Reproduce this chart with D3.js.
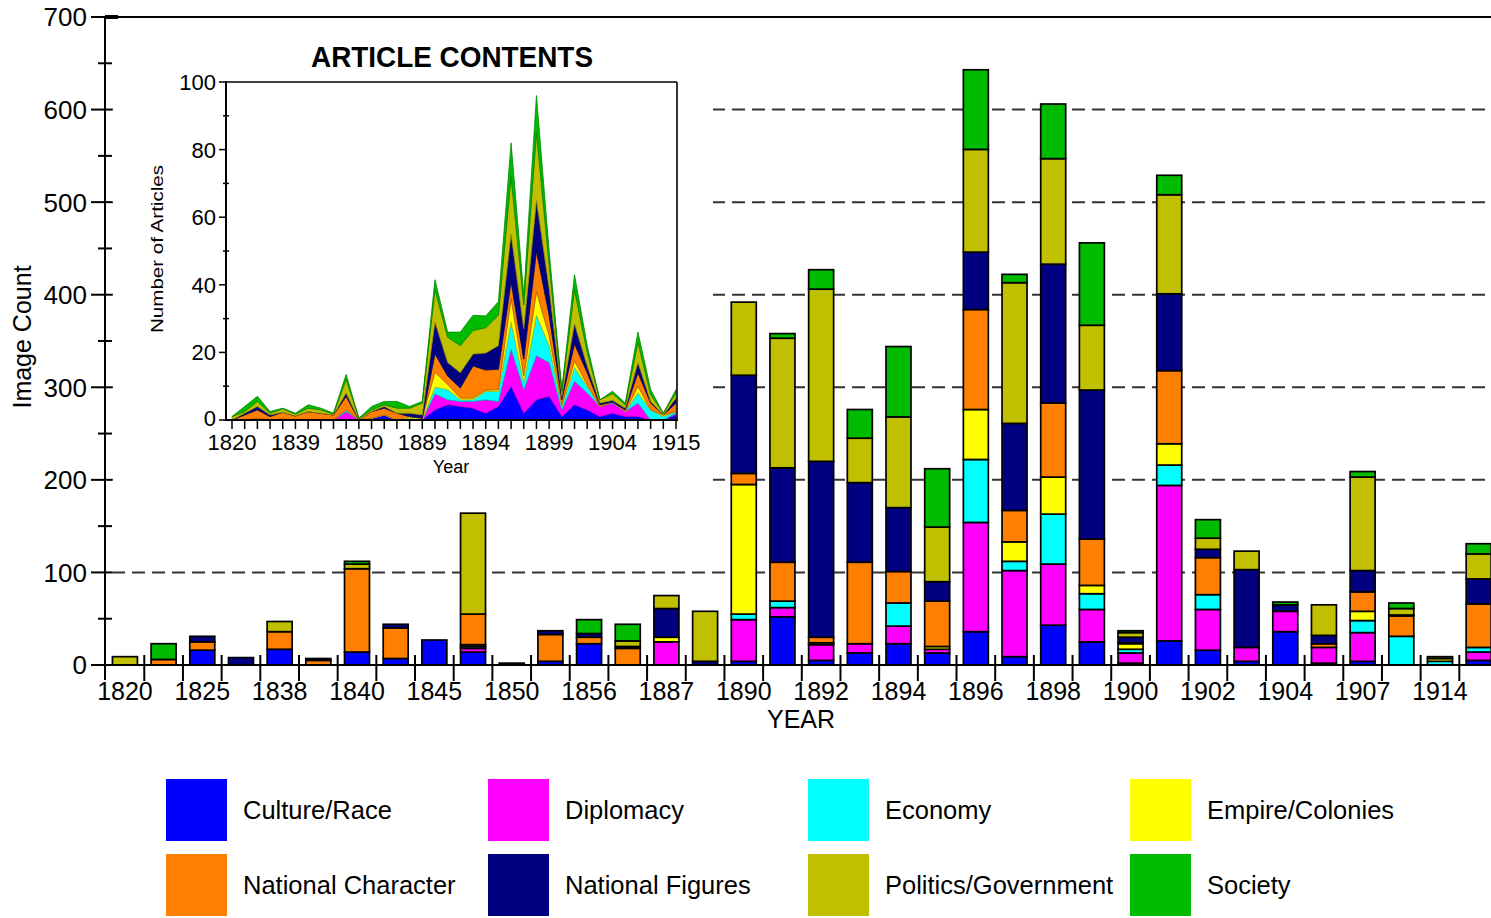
<!DOCTYPE html>
<html><head><meta charset="utf-8">
<script src="https://cdn.jsdelivr.net/npm/d3@7"></script>
<style>body{margin:0;background:#fff;} svg{display:block;font-family:"Liberation Sans",Arial,sans-serif;}</style>
</head><body>
<svg id="c" width="1491" height="918"></svg>
<script>
const years = ["1820","1822","1825","1830","1838","1839","1840","1842","1845","1848","1850","1853","1856","1860","1887","1889","1890","1891","1892","1893","1894","1895","1896","1897","1898","1899","1900","1901","1902","1903","1904","1905","1907","1908","1914","1915"];
const categories = ["Culture/Race","Diplomacy","Economy","Empire/Colonies","National Character","National Figures","Politics/Government","Society"];
const colors = ["#0000ff","#ff00ff","#00ffff","#ffff00","#ff8000","#000080","#c0c000","#00bb00"];
const yTicks = [0,100,200,300,400,500,600,700];
const insetYTicks = [0,20,40,60,80,100];

// Image counts (main chart)
const cultureRace      = [0,0,16,0,17,0,14,7,27,14,0,4,23,0,0,0,4,52,5,13,23,13,36,9,43,25,2,26,16,4,36,2,4,0,0,5];
const diplomacy        = [0,0,0,0,0,0,0,0,0,4,0,0,0,0,25,0,45,10,17,10,19,4,118,93,66,35,11,168,44,15,22,17,31,0,0,9];
const economy          = [0,0,0,0,0,0,0,0,0,2,0,0,0,0,0,0,6,7,0,0,25,0,68,10,54,17,4,22,16,0,0,0,13,31,4,5];
const empireColonies   = [0,0,0,0,0,0,0,0,0,2,0,0,0,0,5,0,140,0,2,0,0,3,54,21,40,9,6,23,0,0,0,0,10,0,3,0];
const nationalChar     = [0,6,9,0,19,5,90,33,0,33,0,29,7,18,0,0,12,42,6,88,34,49,108,34,80,50,1,79,40,0,0,4,21,22,0,47];
const nationalFigures  = [0,0,6,8,0,2,0,4,0,0,2,4,4,2,31,4,106,102,190,86,69,21,62,94,150,161,6,83,9,84,7,9,23,1,0,27];
const politicsGov      = [9,0,0,0,11,0,5,0,0,109,0,0,0,6,14,54,79,140,186,48,98,59,111,152,114,70,5,107,12,20,0,33,101,7,2,27];
const society          = [0,17,0,0,0,0,3,0,0,0,0,0,15,18,0,0,0,5,21,31,76,63,86,9,59,89,2,21,20,0,3,0,6,6,0,11];

// Article counts (inset)
const artCulture   = [0,0,0.5,0,0.3,0,0,0,0,0,0,0.5,1.5,0,0,0,3,4.5,4,3.5,2,4,10,2,6,7,1,4.5,3,1,2,1,1,0,0,1.5];
const artDiplomacy = [0,0,0,0,0,0,0,0,0,2.5,0,0,0,0,0.5,0,4.7,1.5,1.5,2,4,1.5,11,7,13,10,2,7,5,3,3,1.5,4,0,0,0.5];
const artEconomy   = [0,0,0,0,0,0,0,0,0,0.5,0,0,0,0,0,0,2,3,0.5,0.5,2.5,3,8,2,12,5,1,4,2,0,0.3,0,3,3,1,0.5];
const artEmpire    = [0,0,0,0,0,0,0,0,0,0,0,0,0,0,0.5,0.5,4.4,1.5,0.5,0.5,0.3,0.5,7,2,7,3,0.5,2,0.5,0,0,0,2,0,0.5,0];
const artNatChar   = [0,1.5,2.5,1,2,1.2,2.5,2,1.5,4,0,2,2,2,0,0,5.5,2.5,3,9.5,6,6,5,5,12,6,1.5,5,3.5,0.5,0,0.5,4,2,0,2.5];
const artNatFig    = [0,0.5,1,0.5,0,0,0,0,0,1,0,0,0.5,0,1,1,9.4,4,4.5,3.5,5,7,14,9,15,8,1,6,2,0.5,0.5,0.5,3,0.5,0,1.5];
const artPolitics  = [1,0.5,1.5,0.5,1,0.5,1,1,0.3,4,0.5,0.5,0.5,1.5,1.5,3.5,9.5,7.5,8,7,7.5,9,17,7,20,7,1.5,10,4,1,2,1,6,2,0.5,1.5];
const artSociety   = [0,1.5,1.5,0.5,0.2,0.3,1,0.5,0.2,1.5,0,1,1,2,0.5,0.5,3,1.5,4,4.5,3.5,4,10,3,11,4,0.5,4.5,2,0,0.7,0.5,3,1.5,0,1];

const mainSeries = [cultureRace,diplomacy,economy,empireColonies,nationalChar,nationalFigures,politicsGov,society];
const artSeries  = [artCulture,artDiplomacy,artEconomy,artEmpire,artNatChar,artNatFig,artPolitics,artSociety];

const svg = d3.select("#c");
const rows = years.map((yr,i)=>{const o={year:yr}; categories.forEach((c,k)=>o[c]=mainSeries[k][i]); return o;});
const artRows = years.map((yr,i)=>{const o={year:yr}; categories.forEach((c,k)=>o[c]=artSeries[k][i]); return o;});

// ---------- main chart ----------
const y = d3.scaleLinear().domain([0,700]).range([665,17]);
const x = d3.scaleBand().domain(years).range([105.6,1498]).paddingInner(0.354).paddingOuter(0.177);
const step = x.step();

// gridlines
svg.append("g").selectAll("line").data([100,200,300,400,500,600]).join("line")
  .attr("x1",112).attr("x2",1491).attr("y1",d=>y(d)).attr("y2",d=>y(d))
  .attr("stroke","#333").attr("stroke-width",2).attr("stroke-dasharray","13,7");

const stack = d3.stack().keys(categories)(rows);
svg.append("g").selectAll("g").data(stack).join("g")
  .attr("fill",(d,i)=>colors[i])
  .selectAll("rect").data(d=>d.filter(s=>s[1]-s[0]>0)).join("rect")
  .attr("x",d=>x(d.data.year)).attr("width",x.bandwidth())
  .attr("y",d=>y(d[1])).attr("height",d=>y(d[0])-y(d[1]))
  .attr("stroke","#000").attr("stroke-width",1.7);

// axes
svg.append("line").attr("x1",105).attr("x2",1491).attr("y1",17).attr("y2",17).attr("stroke","#000").attr("stroke-width",2);
svg.append("line").attr("x1",105).attr("x2",118).attr("y1",17).attr("y2",17).attr("stroke","#000").attr("stroke-width",4);
svg.append("line").attr("x1",105).attr("x2",105).attr("y1",16).attr("y2",680).attr("stroke","#000").attr("stroke-width",2);
svg.append("line").attr("x1",105).attr("x2",1491).attr("y1",y(0)).attr("y2",y(0)).attr("stroke","#000").attr("stroke-width",2);
const minor = d3.range(50,700,100);
svg.append("g").selectAll("line").data(yTicks).join("line")
  .attr("x1",91).attr("x2",112).attr("y1",d=>y(d)).attr("y2",d=>y(d)).attr("stroke","#000").attr("stroke-width",2);
svg.append("g").selectAll("line").data(minor).join("line")
  .attr("x1",98).attr("x2",112).attr("y1",d=>y(d)).attr("y2",d=>y(d)).attr("stroke","#000").attr("stroke-width",2);
svg.append("g").selectAll("text").data(yTicks).join("text")
  .attr("x",87).attr("y",d=>y(d)).attr("dy","0.36em").attr("text-anchor","end")
  .attr("font-size",26).text(d=>d);
// x ticks at band boundaries
svg.append("g").selectAll("line").data(d3.range(1,37)).join("line")
  .attr("x1",i=>105.6+i*step).attr("x2",i=>105.6+i*step).attr("y1",655).attr("y2",681)
  .attr("stroke","#000").attr("stroke-width",2);
svg.append("g").selectAll("text").data(years.filter((d,i)=>i%2===0)).join("text")
  .attr("x",d=>x(d)+x.bandwidth()/2).attr("y",691).attr("dy","0.36em").attr("text-anchor","middle")
  .attr("font-size",25).text(d=>d);
svg.append("text").attr("x",801).attr("y",719).attr("dy","0.36em").attr("text-anchor","middle").attr("font-size",25).text("YEAR");
svg.append("text").attr("transform","translate(31,337) rotate(-90)").attr("text-anchor","middle").attr("font-size",25).text("Image Count");

// ---------- inset ----------
svg.append("rect").attr("x",113).attr("y",20).attr("width",600).attr("height",468).attr("fill","#fff");
const iy = d3.scaleLinear().domain([0,100]).range([420,82]);
const ix = d3.scalePoint().domain(years).range([232,676]);
const aStack = d3.stack().keys(categories)(artRows);
const area = d3.area().x(d=>ix(d.data.year)).y0(d=>iy(d[0])).y1(d=>iy(d[1]));
svg.append("g").selectAll("path").data(aStack).join("path")
  .attr("d",area).attr("fill",(d,i)=>colors[i])
  .attr("stroke",(d,i)=>d3.color(colors[i]).darker(0.9)).attr("stroke-width",0.8).attr("stroke-linejoin","round");
// frame
svg.append("line").attr("x1",226).attr("x2",677).attr("y1",82).attr("y2",82).attr("stroke","#000").attr("stroke-width",1.6);
svg.append("line").attr("x1",677).attr("x2",677).attr("y1",82).attr("y2",420).attr("stroke","#000").attr("stroke-width",1.6);
svg.append("line").attr("x1",226).attr("x2",226).attr("y1",81).attr("y2",421).attr("stroke","#000").attr("stroke-width",2);
svg.append("line").attr("x1",226).attr("x2",678).attr("y1",420).attr("y2",420).attr("stroke","#000").attr("stroke-width",2);
svg.append("g").selectAll("line").data(insetYTicks).join("line")
  .attr("x1",219).attr("x2",226).attr("y1",d=>iy(d)).attr("y2",d=>iy(d)).attr("stroke","#000").attr("stroke-width",1.5);
svg.append("g").selectAll("line").data([10,30,50,70,90]).join("line")
  .attr("x1",223).attr("x2",229).attr("y1",d=>iy(d)).attr("y2",d=>iy(d)).attr("stroke","#000").attr("stroke-width",1.5);
svg.append("g").selectAll("text").data(insetYTicks).join("text")
  .attr("x",216).attr("y",d=>iy(d)-(d===0?2:0)).attr("dy","0.36em").attr("text-anchor","end").attr("font-size",22).text(d=>d);
svg.append("g").selectAll("line").data(years).join("line")
  .attr("x1",d=>ix(d)).attr("x2",d=>ix(d)).attr("y1",420).attr("y2",429).attr("stroke","#000").attr("stroke-width",1.5);
svg.append("g").selectAll("text").data(years.filter((d,i)=>i%5===0||i===years.length-1)).join("text")
  .attr("x",d=>ix(d)).attr("y",442).attr("dy","0.36em").attr("text-anchor","middle").attr("font-size",22).text(d=>d);
svg.append("text").attr("x",451).attr("y",467).attr("dy","0.36em").attr("text-anchor","middle").attr("font-size",18).text("Year");
svg.append("text").attr("transform","translate(163,249) rotate(-90)").attr("text-anchor","middle").attr("font-size",17)
  .attr("textLength",168).attr("lengthAdjust","spacingAndGlyphs").text("Number of Articles");
svg.append("text").attr("x",452).attr("y",57).attr("dy","0.36em").attr("text-anchor","middle").attr("font-size",29).attr("font-weight","bold")
  .attr("textLength",282).attr("lengthAdjust","spacingAndGlyphs").text("ARTICLE CONTENTS");

// ---------- legend ----------
const legX = [166,488,808,1130], legY = [779,854];
const leg = svg.append("g").selectAll("g").data(categories).join("g")
  .attr("transform",(d,i)=>`translate(${legX[i%4]},${legY[Math.floor(i/4)]})`);
leg.append("rect").attr("width",61).attr("height",62).attr("fill",(d,i)=>colors[i]);
leg.append("text").attr("x",77).attr("y",31).attr("dy","0.36em").attr("font-size",25.5).text(d=>d);
</script>
</body></html>
